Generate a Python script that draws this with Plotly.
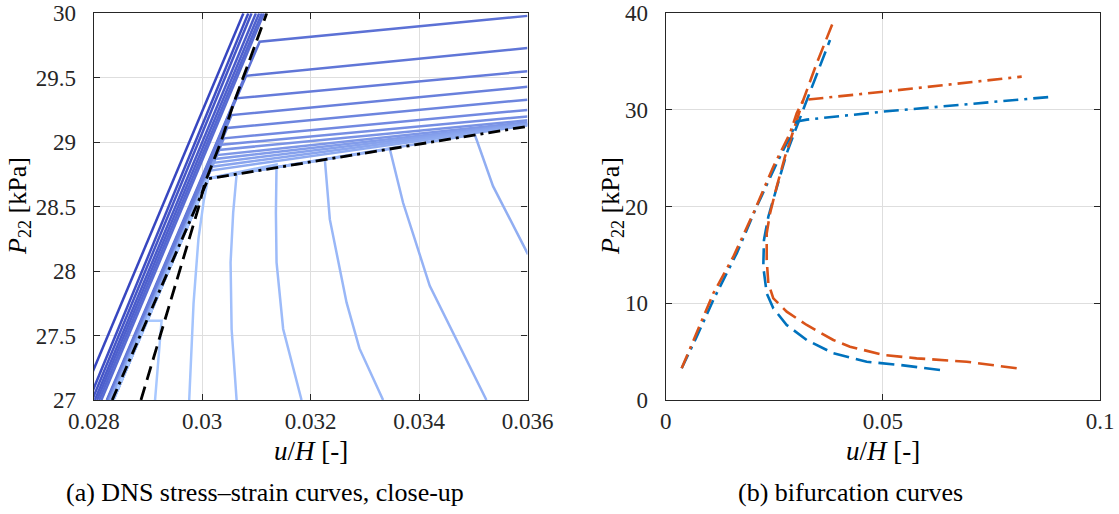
import plotly.graph_objects as go

# ---------------- panel (a): DNS stress-strain curves, close-up ----------------
P_low = 27.0
P_high = 30.0
x_right = 0.036

# elastic curves leaving the top of the view (x at P=27 and at P=30)
top_x_low = [0.02776, 0.02791, 0.02797, 0.02802, 0.02806, 0.02810, 0.02814]
top_x_high = [0.03076, 0.03085, 0.03091, 0.03099, 0.03105, 0.03110, 0.03114]

# curves with a stable post-bifurcation branch
br_x_low = [0.02824, 0.02825, 0.02826, 0.02827, 0.02828, 0.02828, 0.02829,
            0.02829, 0.02830, 0.02830, 0.02831, 0.02831, 0.02832]
br_x_start = [0.03106, 0.03081, 0.03062, 0.03054, 0.03046, 0.03040, 0.03035,
              0.03031, 0.03027, 0.03024, 0.03021, 0.03018, 0.03015]
br_P_start = [29.78, 29.515, 29.34, 29.21, 29.11, 29.03, 28.98,
              28.94, 28.90, 28.87, 28.84, 28.81, 28.78]
br_P_end = [29.98, 29.73, 29.55, 29.43, 29.33, 29.25, 29.20,
            29.17, 29.155, 29.145, 29.14, 29.135, 29.13]

# curves with a descending (softening) branch
desc_G_x = [0.02836, 0.03011, 0.035027, 0.035364, 0.036009]
desc_G_P = [27.0, 28.72, 29.06, 28.659, 28.13]
desc_F_x = [0.02836, 0.03011, 0.033460, 0.033705, 0.034197, 0.03465, 0.035242]
desc_F_P = [27.0, 28.72, 28.948, 28.53, 27.886, 27.5, 27.0]
desc_E_x = [0.02836, 0.03011, 0.032262, 0.032354, 0.032662, 0.03290, 0.033336]
desc_E_P = [27.0, 28.72, 28.865, 28.401, 27.757, 27.40, 27.0]
desc_D_x = [0.02836, 0.03011, 0.031371, 0.031359, 0.031371, 0.031493, 0.031832]
desc_D_P = [27.0, 28.72, 28.827, 28.453, 28.067, 27.551, 27.0]
desc_C_x = [0.02836, 0.03011, 0.030634, 0.030571, 0.030523, 0.030542, 0.030634]
desc_C_P = [27.0, 28.72, 28.749, 28.453, 28.067, 27.551, 27.0]
desc_B_x = [0.02836, 0.03011, 0.03003, 0.02993, 0.02984, 0.02976]
desc_B_P = [27.0, 28.72, 28.55, 28.25, 27.75, 27.0]
desc_A_x = [0.02835, 0.02897, 0.02925, 0.02919, 0.02913]
desc_A_P = [27.0, 27.615, 27.615, 27.30, 27.0]

# black reference curves
ref_dash_x = [0.02887, 0.02968, 0.02993, 0.03005, 0.03020, 0.03036, 0.03057, 0.03119]
ref_dash_P = [27.0, 28.13, 28.49, 28.685, 28.84, 29.02, 29.29, 30.0]
ref_dashdot_x = [0.02834, 0.03011, 0.036]
ref_dashdot_P = [27.0, 28.716, 29.123]

# ---------------- panel (b): bifurcation curves ----------------
or_dash_x = [0.08082, 0.06931, 0.05779, 0.05011, 0.04244, 0.03859, 0.03247, 0.02786,
             0.02478, 0.02363, 0.02326, 0.02326, 0.02402, 0.02556, 0.02747, 0.02938,
             0.03168, 0.03477, 0.03859]
or_dash_P = [3.28, 3.96, 4.31, 4.66, 5.52, 6.21, 7.76, 9.14, 10.52, 12.07, 14.48,
             17.24, 19.31, 22.07, 25.17, 27.93, 31.03, 34.83, 39.13]
bl_dash_x = [0.06316, 0.05395, 0.04628, 0.03859, 0.03247, 0.02786, 0.02478, 0.02326,
             0.02247, 0.02263, 0.02363, 0.02556, 0.02786, 0.03016, 0.03247, 0.03477,
             0.03783]
bl_dash_P = [3.10, 3.62, 3.96, 4.83, 6.21, 7.76, 9.48, 11.03, 13.79, 16.55, 18.96,
             22.07, 25.52, 28.27, 31.03, 33.79, 37.24]
or_dd_x = [0.00368, 0.00714, 0.01096, 0.01557, 0.02018, 0.02478, 0.02862, 0.03016,
           0.03168, 0.05011, 0.08197]
or_dd_P = [3.28, 6.90, 11.03, 14.82, 19.31, 24.13, 27.59, 29.66, 31.03, 31.89, 33.45]
bl_dd_x = [0.00368, 0.00714, 0.01096, 0.01635, 0.02095, 0.02556, 0.02862, 0.03016,
           0.03250, 0.05011, 0.08925]
bl_dd_P = [3.28, 6.55, 10.34, 15.17, 20.0, 24.48, 27.24, 28.80, 29.0, 29.83, 31.38]

# ---------------- figure ----------------
FONT = "Liberation Serif"
AX = "#262626"
GRID = "#dedede"
BLUE = "#0072BD"
ORANGE = "#D95319"

fig = go.Figure()

curves_a = []
for x0, x1 in zip(top_x_low, top_x_high):
    curves_a.append(([x0, x1], [P_low, P_high]))
for xl, xs, ps, pe in zip(br_x_low, br_x_start, br_P_start, br_P_end):
    curves_a.append(([xl, xs, x_right], [P_low, ps, pe]))
for cx, cp in [(desc_G_x, desc_G_P), (desc_F_x, desc_F_P), (desc_E_x, desc_E_P),
               (desc_D_x, desc_D_P), (desc_C_x, desc_C_P), (desc_B_x, desc_B_P),
               (desc_A_x, desc_A_P)]:
    curves_a.append((cx, cp))

n = len(curves_a)
c0 = (55, 70, 192)
c1 = (168, 200, 255)
for i, (cx, cp) in enumerate(curves_a):
    t = i / (n - 1)
    t = t ** 0.85
    col = "rgb(%d,%d,%d)" % tuple(round(a + (b - a) * t) for a, b in zip(c0, c1))
    fig.add_trace(go.Scatter(x=cx, y=cp, mode="lines", xaxis="x", yaxis="y",
                             line=dict(color=col, width=2.5), showlegend=False,
                             hoverinfo="skip"))

fig.add_trace(go.Scatter(x=ref_dash_x, y=ref_dash_P, mode="lines", xaxis="x", yaxis="y",
                         line=dict(color="black", width=2.8, dash="14px,7px"),
                         showlegend=False))
fig.add_trace(go.Scatter(x=ref_dashdot_x, y=ref_dashdot_P, mode="lines", xaxis="x", yaxis="y",
                         line=dict(color="black", width=2.8, dash="12px,5px,3px,5px"),
                         showlegend=False))

for cx, cp, col, dsh in [(bl_dash_x, bl_dash_P, BLUE, "16px,7px"),
                         (or_dash_x, or_dash_P, ORANGE, "16px,7px"),
                         (bl_dd_x, bl_dd_P, BLUE, "15px,6px,3px,6px"),
                         (or_dd_x, or_dd_P, ORANGE, "15px,6px,3px,6px")]:
    fig.add_trace(go.Scatter(x=cx, y=cp, mode="lines", xaxis="x2", yaxis="y2",
                             line=dict(color=col, width=2.6, dash=dsh),
                             showlegend=False))

W, H = 1119, 514
def px_x(p):
    return p / W
def px_y(p):
    return 1 - p / H

axis_common = dict(showgrid=True, gridcolor=GRID, gridwidth=1, showline=True,
                   linecolor=AX, linewidth=1.2, mirror="ticks", ticks="inside",
                   ticklen=6, tickcolor=AX, zeroline=False, automargin=False,
                   ticklabeloverflow="allow",
                   tickfont=dict(family=FONT, size=23, color=AX))

fig.update_layout(
    width=W, height=H, margin=dict(l=0, r=0, t=0, b=0),
    paper_bgcolor="white", plot_bgcolor="white", showlegend=False,
    xaxis=dict(domain=[px_x(93.8), px_x(527.5)], range=[0.028, 0.036], anchor="y",
               tickvals=[0.028, 0.03, 0.032, 0.034, 0.036],
               ticktext=["0.028", "0.03", "0.032", "0.034", "0.036"],
               ticklabelstandoff=0, **axis_common),
    yaxis=dict(domain=[px_y(400), px_y(13.3)], range=[27, 30], anchor="x",
               tickvals=[27, 27.5, 28, 28.5, 29, 29.5, 30],
               ticktext=["27", "27.5", "28", "28.5", "29", "29.5", "30"],
               ticklabelstandoff=12, **axis_common),
    xaxis2=dict(domain=[px_x(665.7), px_x(1100)], range=[0, 0.1], anchor="y2",
                tickvals=[0, 0.05, 0.1], ticktext=["0", "0.05", "0.1"],
                ticklabelstandoff=0, **axis_common),
    yaxis2=dict(domain=[px_y(400), px_y(13.3)], range=[0, 40], anchor="x2",
                tickvals=[0, 10, 20, 30, 40], ticktext=["0", "10", "20", "30", "40"],
                ticklabelstandoff=12, **axis_common),
)

ann = []
def add_text(txt, x, y, size, angle=0):
    ann.append(dict(text=txt, x=px_x(x), y=px_y(y), xref="paper", yref="paper",
                    showarrow=False, textangle=angle, xanchor="center", yanchor="middle",
                    font=dict(family=FONT, size=size, color="black")))

add_text("<i>u</i>/<i>H</i> [-]", 311, 451, 27)
add_text("<i>u</i>/<i>H</i> [-]", 883, 451, 27)
add_text("<i>P</i><sub>22</sub> [kPa]", 19, 206, 26, -90)
add_text("<i>P</i><sub>22</sub> [kPa]", 612, 206, 26, -90)
add_text("(a) DNS stress–strain curves, close-up", 265, 492, 26)
add_text("(b) bifurcation curves", 850, 492, 26)
fig.update_layout(annotations=ann)

# remove the default 8 px page margin so the figure fills the window exactly
fig.write_html("out.html", config={"displayModeBar": False},
               post_script="document.body.style.margin='0';document.body.style.overflow='hidden';")
